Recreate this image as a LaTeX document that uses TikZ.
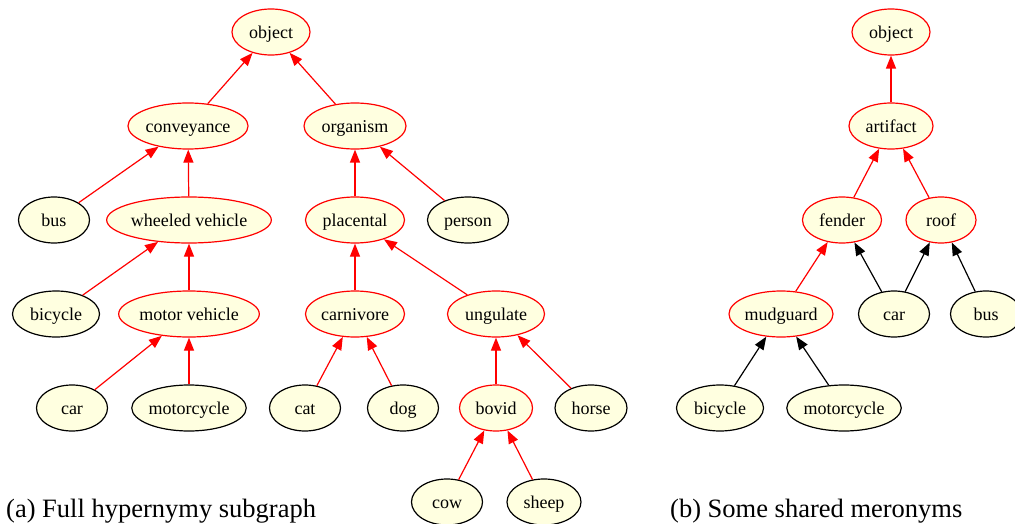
\documentclass[tikz,border=0pt]{standalone}
\usepackage{fontspec}
\setmainfont{Liberation Serif}
\usetikzlibrary{shapes.geometric,arrows.meta}
\definecolor{nodefill}{HTML}{FFFFE0}
\definecolor{hred}{HTML}{FF0000}
\begin{document}
\begin{tikzpicture}[x=1pt,y=-1pt,
  gnode/.style={ellipse,draw,fill=nodefill,line width=1.2pt,inner sep=0pt,
    minimum height=46pt,text height=17pt,text depth=4pt,font=\fontsize{18}{20}\selectfont},
  rn/.style={gnode,draw=hred},
  bn/.style={gnode,draw=black},
  redge/.style={draw=hred,line width=1.2pt,-{Triangle[length=13pt,width=10pt]},color=hred},
  bedge/.style={draw=black,line width=1.2pt,-{Triangle[length=13pt,width=10pt]}},
  caption/.style={anchor=base west,inner sep=0pt,font=\fontsize{26.5}{30}\selectfont}]
\useasboundingbox (0,0) rectangle (1015,524);
% left graph
\node[rn,minimum width=78pt]  (obj)  at (271,32) {object};
\node[rn,minimum width=120pt] (conv) at (188,126) {conveyance};
\node[rn,minimum width=102pt] (org)  at (355,126) {organism};
\node[bn,minimum width=71pt]  (busL) at (54,220) {bus};
\node[rn,minimum width=149pt] (wv)   at (189,220) {wheeled vehicle};
\node[rn,minimum width=99pt]  (plac) at (355,220) {placental};
\node[bn,minimum width=81pt]  (pers) at (468,220) {person};
\node[bn,minimum width=87pt]  (bicL) at (56,314) {bicycle};
\node[rn,minimum width=134pt] (mv)   at (189,314) {motor vehicle};
\node[rn,minimum width=99pt]  (carn) at (355,314) {carnivore};
\node[rn,minimum width=97pt]  (ung)  at (496,314) {ungulate};
\node[bn,minimum width=71pt]  (carL) at (72,408) {car};
\node[bn,minimum width=113pt] (mcL)  at (189,408) {motorcycle};
\node[bn,minimum width=71pt]  (cat)  at (305,408) {cat};
\node[bn,minimum width=71pt]  (dog)  at (403,408) {dog};
\node[rn,minimum width=73pt]  (bov)  at (496,408) {bovid};
\node[bn,minimum width=72pt]  (horse) at (591,408) {horse};
\node[bn,minimum width=71pt]  (cow)  at (447,502) {cow};
\node[bn,minimum width=74pt]  (sheep) at (544,502) {sheep};
\draw[redge] (conv) -- (obj);
\draw[redge] (org) -- (obj);
\draw[redge] (busL) -- (conv);
\draw[redge] (wv) -- (conv);
\draw[redge] (plac) -- (org);
\draw[redge] (pers) -- (org);
\draw[redge] (bicL) -- (wv);
\draw[redge] (mv) -- (wv);
\draw[redge] (carn) -- (plac);
\draw[redge] (ung) -- (plac);
\draw[redge] (carL) -- (mv);
\draw[redge] (mcL) -- (mv);
\draw[redge] (cat) -- (carn);
\draw[redge] (dog) -- (carn);
\draw[redge] (bov) -- (ung);
\draw[redge] (horse) -- (ung);
\draw[redge] (cow) -- (bov);
\draw[redge] (sheep) -- (bov);
% right graph
\node[rn,minimum width=78pt]  (objR) at (891,32) {object};
\node[rn,minimum width=84pt]  (art)  at (891,126) {artifact};
\node[rn,minimum width=79pt]  (fend) at (842,220) {fender};
\node[rn,minimum width=70pt]  (roof) at (941,220) {roof};
\node[rn,minimum width=104pt] (mud)  at (781,314) {mudguard};
\node[bn,minimum width=71pt]  (carR) at (894,314) {car};
\node[bn,minimum width=71pt]  (busR) at (986,314) {bus};
\node[bn,minimum width=87pt]  (bicR) at (720,408) {bicycle};
\node[bn,minimum width=113pt] (mcR)  at (844,408) {motorcycle};
\draw[redge] (art) -- (objR);
\draw[redge] (fend) -- (art);
\draw[redge] (roof) -- (art);
\draw[redge] (mud) -- (fend);
\draw[bedge] (carR) -- (fend);
\draw[bedge] (carR) -- (roof);
\draw[bedge] (busR) -- (roof);
\draw[bedge] (bicR) -- (mud);
\draw[bedge] (mcR) -- (mud);
% captions
\node[caption] (capa) at (6,517) {(a) Full hypernymy subgraph};
\node[caption] (capb) at (670,517) {(b) Some shared meronyms};
\end{tikzpicture}
\end{document}
